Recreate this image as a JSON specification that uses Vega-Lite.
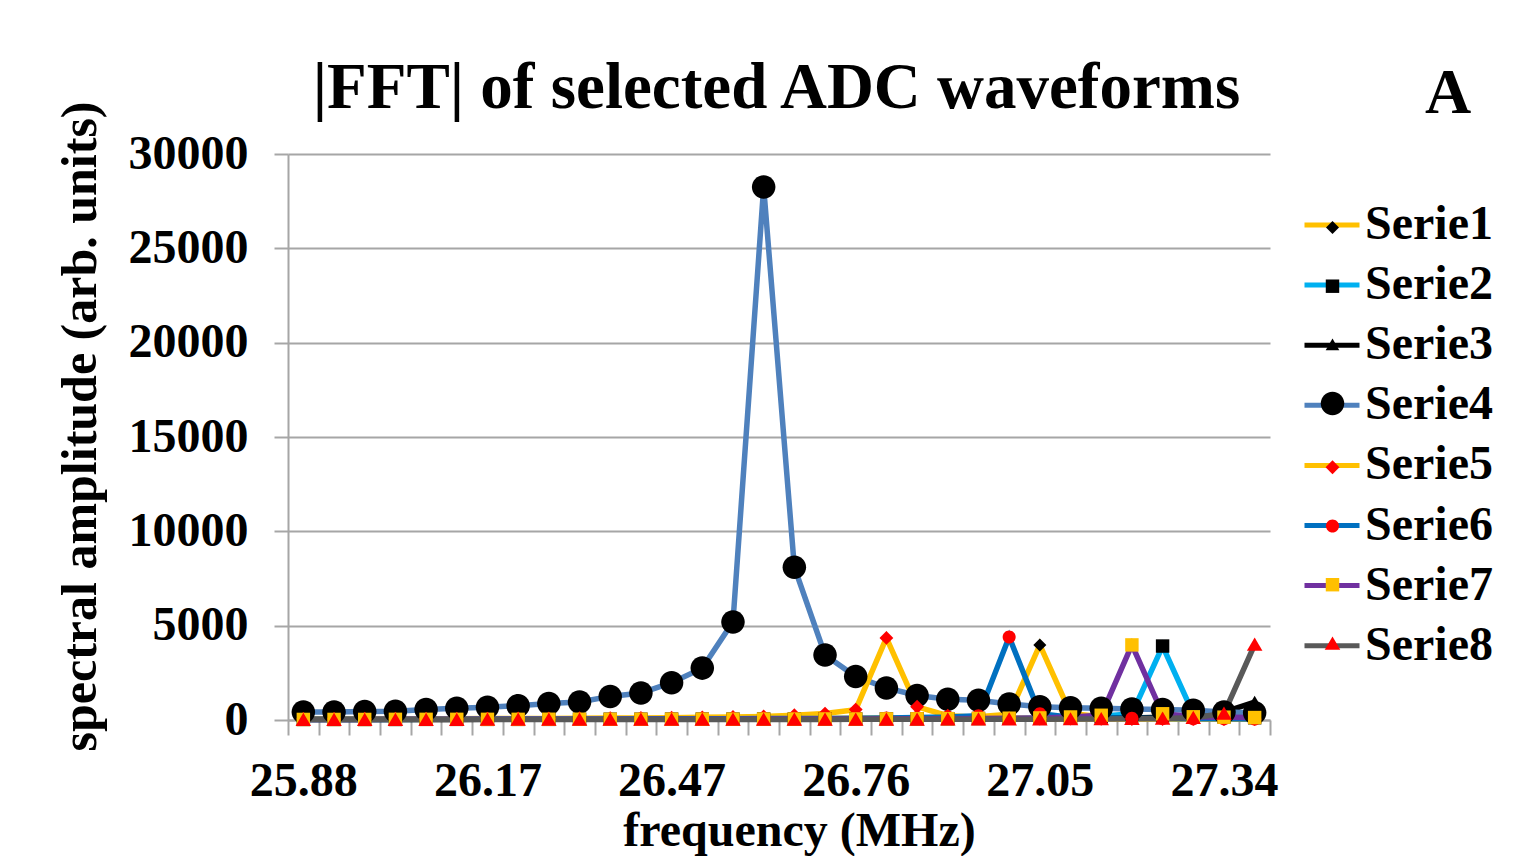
{
  "$schema": "https://vega.github.io/schema/vega-lite/v6.json",
  "width": 982,
  "height": 566,
  "autosize": {"type": "none"},
  "padding": {"left": 288, "top": 154, "right": 245, "bottom": 136},
  "background": "white",
  "data": {
    "values": [
      {"f": "25.88", "Serie1": 40, "Serie2": 30, "Serie3": 30, "Serie4": 420, "Serie5": 60, "Serie6": 40, "Serie7": 30, "Serie8": 20},
      {"f": "25.93", "Serie1": 40, "Serie2": 30, "Serie3": 30, "Serie4": 430, "Serie5": 60, "Serie6": 40, "Serie7": 30, "Serie8": 20},
      {"f": "25.98", "Serie1": 40, "Serie2": 30, "Serie3": 30, "Serie4": 450, "Serie5": 65, "Serie6": 40, "Serie7": 30, "Serie8": 20},
      {"f": "26.03", "Serie1": 45, "Serie2": 30, "Serie3": 30, "Serie4": 460, "Serie5": 65, "Serie6": 45, "Serie7": 35, "Serie8": 20},
      {"f": "26.08", "Serie1": 45, "Serie2": 35, "Serie3": 30, "Serie4": 560, "Serie5": 70, "Serie6": 45, "Serie7": 35, "Serie8": 20},
      {"f": "26.12", "Serie1": 45, "Serie2": 35, "Serie3": 30, "Serie4": 620, "Serie5": 70, "Serie6": 45, "Serie7": 35, "Serie8": 20},
      {"f": "26.17", "Serie1": 50, "Serie2": 35, "Serie3": 35, "Serie4": 680, "Serie5": 75, "Serie6": 50, "Serie7": 35, "Serie8": 25},
      {"f": "26.22", "Serie1": 50, "Serie2": 35, "Serie3": 35, "Serie4": 760, "Serie5": 80, "Serie6": 50, "Serie7": 35, "Serie8": 25},
      {"f": "26.27", "Serie1": 50, "Serie2": 35, "Serie3": 35, "Serie4": 880, "Serie5": 85, "Serie6": 50, "Serie7": 40, "Serie8": 25},
      {"f": "26.32", "Serie1": 55, "Serie2": 40, "Serie3": 35, "Serie4": 960, "Serie5": 90, "Serie6": 55, "Serie7": 40, "Serie8": 25},
      {"f": "26.37", "Serie1": 55, "Serie2": 40, "Serie3": 35, "Serie4": 1250, "Serie5": 100, "Serie6": 55, "Serie7": 40, "Serie8": 25},
      {"f": "26.42", "Serie1": 60, "Serie2": 40, "Serie3": 40, "Serie4": 1430, "Serie5": 110, "Serie6": 60, "Serie7": 40, "Serie8": 25},
      {"f": "26.47", "Serie1": 60, "Serie2": 45, "Serie3": 40, "Serie4": 1980, "Serie5": 120, "Serie6": 60, "Serie7": 45, "Serie8": 25},
      {"f": "26.51", "Serie1": 65, "Serie2": 45, "Serie3": 40, "Serie4": 2750, "Serie5": 140, "Serie6": 65, "Serie7": 45, "Serie8": 30},
      {"f": "26.56", "Serie1": 70, "Serie2": 45, "Serie3": 40, "Serie4": 5200, "Serie5": 160, "Serie6": 70, "Serie7": 45, "Serie8": 30},
      {"f": "26.61", "Serie1": 70, "Serie2": 50, "Serie3": 45, "Serie4": 28250, "Serie5": 190, "Serie6": 75, "Serie7": 50, "Serie8": 30},
      {"f": "26.66", "Serie1": 75, "Serie2": 50, "Serie3": 45, "Serie4": 8100, "Serie5": 250, "Serie6": 80, "Serie7": 50, "Serie8": 30},
      {"f": "26.71", "Serie1": 80, "Serie2": 55, "Serie3": 45, "Serie4": 3450, "Serie5": 340, "Serie6": 85, "Serie7": 55, "Serie8": 30},
      {"f": "26.76", "Serie1": 90, "Serie2": 55, "Serie3": 50, "Serie4": 2300, "Serie5": 550, "Serie6": 95, "Serie7": 55, "Serie8": 35},
      {"f": "26.81", "Serie1": 100, "Serie2": 60, "Serie3": 50, "Serie4": 1700, "Serie5": 4350, "Serie6": 110, "Serie7": 60, "Serie8": 35},
      {"f": "26.86", "Serie1": 110, "Serie2": 65, "Serie3": 55, "Serie4": 1300, "Serie5": 700, "Serie6": 130, "Serie7": 65, "Serie8": 35},
      {"f": "26.90", "Serie1": 130, "Serie2": 70, "Serie3": 55, "Serie4": 1100, "Serie5": 230, "Serie6": 160, "Serie7": 70, "Serie8": 40},
      {"f": "26.95", "Serie1": 170, "Serie2": 80, "Serie3": 60, "Serie4": 1050, "Serie5": 140, "Serie6": 230, "Serie7": 80, "Serie8": 40},
      {"f": "27.00", "Serie1": 300, "Serie2": 90, "Serie3": 65, "Serie4": 850, "Serie5": 100, "Serie6": 4400, "Serie7": 95, "Serie8": 45},
      {"f": "27.05", "Serie1": 3980, "Serie2": 110, "Serie3": 70, "Serie4": 700, "Serie5": 80, "Serie6": 330, "Serie7": 110, "Serie8": 45},
      {"f": "27.10", "Serie1": 350, "Serie2": 140, "Serie3": 80, "Serie4": 650, "Serie5": 70, "Serie6": 150, "Serie7": 160, "Serie8": 50},
      {"f": "27.15", "Serie1": 170, "Serie2": 200, "Serie3": 90, "Serie4": 620, "Serie5": 60, "Serie6": 110, "Serie7": 250, "Serie8": 55},
      {"f": "27.20", "Serie1": 120, "Serie2": 330, "Serie3": 110, "Serie4": 580, "Serie5": 55, "Serie6": 90, "Serie7": 3980, "Serie8": 65},
      {"f": "27.25", "Serie1": 100, "Serie2": 3920, "Serie3": 140, "Serie4": 560, "Serie5": 50, "Serie6": 80, "Serie7": 330, "Serie8": 80},
      {"f": "27.29", "Serie1": 90, "Serie2": 340, "Serie3": 220, "Serie4": 520, "Serie5": 50, "Serie6": 70, "Serie7": 170, "Serie8": 120},
      {"f": "27.34", "Serie1": 80, "Serie2": 170, "Serie3": 420, "Serie4": 430, "Serie5": 45, "Serie6": 60, "Serie7": 150, "Serie8": 350},
      {"f": "27.39", "Serie1": 70, "Serie2": 120, "Serie3": 950, "Serie4": 380, "Serie5": 45, "Serie6": 55, "Serie7": 130, "Serie8": 4000}
    ]
  },
  "transform": [
    {"fold": ["Serie1", "Serie2", "Serie3", "Serie4", "Serie5", "Serie6", "Serie7", "Serie8"], "as": ["series", "v"]}
  ],
  "encoding": {
    "y": {
      "field": "v",
      "type": "quantitative",
      "scale": {"domain": [0, 30000], "nice": false},
      "axis": {
        "values": [0, 5000, 10000, 15000, 20000, 25000, 30000],
        "format": "d",
        "grid": true,
        "gridColor": "#a6a6a6",
        "gridWidth": 2,
        "domainColor": "#a6a6a6",
        "domainWidth": 2,
        "tickColor": "#a6a6a6",
        "tickWidth": 2,
        "tickSize": 14,
        "labelFont": "Liberation Serif",
        "labelFontSize": 48,
        "labelFontWeight": "bold",
        "labelColor": "black",
        "labelPadding": 26,
        "title": "spectral amplitude (arb. units)",
        "titleFont": "Liberation Serif",
        "titleFontSize": 50,
        "titleFontWeight": "bold",
        "titleColor": "black",
        "titleAngle": 270,
        "titleAlign": "center",
        "titleBaseline": "alphabetic",
        "titleX": -193,
        "titleY": 272
      }
    }
  },
  "layer": [
    {
      "mark": {"type": "line", "strokeWidth": 5.5},
      "encoding": {
        "x": {
          "field": "f",
          "type": "ordinal",
          "bandPosition": 0.5,
          "scale": {"type": "band", "paddingInner": 0, "paddingOuter": 0},
          "axis": {
            "orient": "bottom",
            "tickBand": "extent",
            "ticks": true,
            "tickSize": 15,
            "tickWidth": 2,
            "tickColor": "#a6a6a6",
            "domainColor": "#a6a6a6",
            "domainWidth": 2,
            "grid": false,
            "labelAngle": 0,
            "labelOverlap": false,
            "labelExpr": "indexof(['25.88','26.17','26.47','26.76','27.05','27.34'], datum.value) >= 0 ? datum.label : ''",
            "labelFont": "Liberation Serif",
            "labelFontSize": 48,
            "labelFontWeight": "bold",
            "labelColor": "black",
            "labelPadding": 22,
            "title": "frequency (MHz)",
            "titleFont": "Liberation Serif",
            "titleFontSize": 48,
            "titleFontWeight": "bold",
            "titleColor": "black",
            "titleBaseline": "alphabetic",
            "titleX": 511,
            "titleY": 125
          }
        },
        "stroke": {
          "field": "series",
          "type": "nominal",
          "scale": {
            "domain": ["Serie1", "Serie2", "Serie3", "Serie4", "Serie5", "Serie6", "Serie7", "Serie8"],
            "range": ["#FFC000", "#00B0F0", "#000000", "#4F81BD", "#FFC000", "#0070C0", "#7030A0", "#595959"]
          },
          "legend": {
            "title": null,
            "orient": "none",
            "legendX": 1014,
            "legendY": 41,
            "padding": 0,
            "symbolType": "stroke",
            "symbolSize": 3025,
            "symbolStrokeWidth": 5,
            "labelFont": "Liberation Serif",
            "labelFontSize": 48,
            "labelFontWeight": "bold",
            "labelColor": "black",
            "labelOffset": 3,
            "rowPadding": 6.1,
            "zindex": 0
          }
        }
      }
    },
    {
      "mark": {"type": "point", "filled": true, "size": 441, "opacity": 1, "strokeWidth": 0},
      "encoding": {
        "x": {
          "field": "f",
          "type": "ordinal",
          "bandPosition": 0.5,
          "axis": {
            "orient": "top",
            "domain": false,
            "ticks": false,
            "labels": false,
            "grid": false,
            "title": "|FFT| of selected ADC waveforms",
            "titleFont": "Liberation Serif",
            "titleFontSize": 65,
            "titleFontWeight": "bold",
            "titleColor": "black",
            "titleAlign": "center",
            "titleBaseline": "alphabetic",
            "titleX": 488,
            "titleY": -47
          }
        },
        "shape": {
          "field": "series",
          "type": "nominal",
          "scale": {
            "range": [
              "M0,-0.62L0.62,0L0,0.62L-0.62,0Z",
              "M-0.64,-0.64L0.64,-0.64L0.64,0.64L-0.64,0.64Z",
              "M0,-0.6L0.65,0.5L-0.65,0.5Z",
              "M1.12,0A1.12,1.12,0,1,1,-1.12,0A1.12,1.12,0,1,1,1.12,0Z",
              "M0,-0.66L0.66,0L0,0.66L-0.66,0Z",
              "M0.62,0A0.62,0.62,0,1,1,-0.62,0A0.62,0.62,0,1,1,0.62,0Z",
              "M-0.64,-0.64L0.64,-0.64L0.64,0.64L-0.64,0.64Z",
              "M0,-0.66L0.74,0.6L-0.74,0.6Z"
            ]
          },
          "legend": {
            "title": "A",
            "titleFont": "Liberation Serif",
            "titleFontSize": 64,
            "titleFontWeight": "bold",
            "titleColor": "black",
            "titlePadding": 91,
            "titleAnchor": "start",
            "orient": "none",
            "legendX": 1137,
            "legendY": -92,
            "padding": 0,
            "symbolSize": 441,
            "symbolStrokeWidth": 0,
            "symbolOpacity": 1,
            "symbolOffset": -103,
            "labelExpr": "''",
            "labelFontSize": 1,
            "labelOffset": 0,
            "rowPadding": 40.7,
            "zindex": 1
          }
        },
        "fill": {
          "field": "series",
          "type": "nominal",
          "scale": {
            "range": ["#000000", "#000000", "#000000", "#000000", "#FF0000", "#FF0000", "#FFC000", "#FF0000"]
          },
          "legend": {
            "title": "A",
            "titleFont": "Liberation Serif",
            "titleFontSize": 64,
            "titleFontWeight": "bold",
            "titleColor": "black",
            "titlePadding": 91,
            "titleAnchor": "start",
            "orient": "none",
            "legendX": 1137,
            "legendY": -92,
            "padding": 0,
            "symbolSize": 441,
            "symbolStrokeWidth": 0,
            "symbolOpacity": 1,
            "symbolOffset": -103,
            "labelExpr": "''",
            "labelFontSize": 1,
            "labelOffset": 0,
            "rowPadding": 40.7,
            "zindex": 1
          }
        }
      }
    }
  ],
  "resolve": {"axis": {"x": "independent"}},
  "config": {"view": {"stroke": null}}
}
